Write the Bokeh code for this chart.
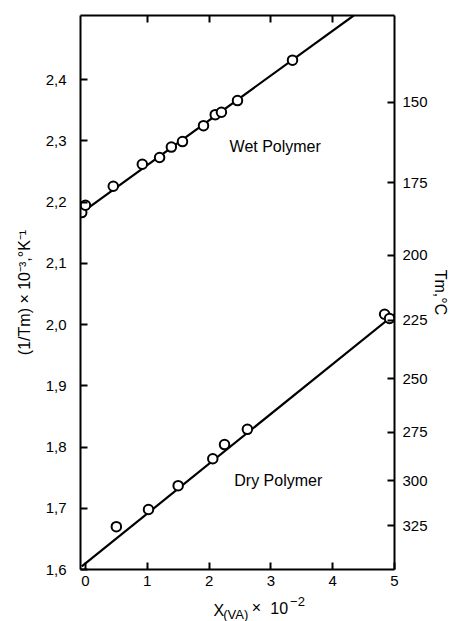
from bokeh.plotting import figure
from bokeh.layouts import column
from bokeh.models import Range1d, LinearAxis, FixedTicker, Label
from bokeh.core.properties import value
from bokeh.embed import file_html
from bokeh.resources import INLINE

# ---- data ----
wet_x = [-0.06, 0.0, 0.45, 0.92, 1.20, 1.39, 1.57, 1.91, 2.10, 2.20, 2.46, 3.35]
wet_y = [2.183, 2.195, 2.226, 2.262, 2.273, 2.290, 2.299, 2.325, 2.343, 2.347, 2.366, 2.432]
dry_x = [0.50, 1.02, 1.50, 2.06, 2.25, 2.62, 4.84, 4.92]
dry_y = [1.670, 1.698, 1.737, 1.781, 1.804, 1.829, 2.017, 2.010]
wet_line_x = [-0.06, 4.34]
wet_line_y = [2.183, 2.505]
dry_line_x = [-0.06, 5.0]
dry_line_y = [1.605, 2.017]

x_ticks = [0, 1, 2, 3, 4, 5]
top_ticks = [1, 2, 3, 4]
y_ticks = [1.6, 1.7, 1.8, 1.9, 2.0, 2.1, 2.2, 2.3, 2.4]
y_tick_labels = ["1,6", "1,7", "1,8", "1,9", "2,0", "2,1", "2,2", "2,3", "2,4"]
tm_celsius = [150, 175, 200, 225, 250, 275, 300, 325]

FONT = "Liberation Sans"
W = 451
MAIN_H = 592
TITLE_H = 29

p = figure(width=W, height=MAIN_H, output_backend="svg", toolbar_location=None,
           x_range=Range1d(-0.08, 5.0), y_range=Range1d(1.6, 2.505),
           min_border_left=80, min_border_right=57, min_border_top=15, min_border_bottom=23,
           background_fill_color="white", border_fill_color="white")
p.grid.visible = False
p.outline_line_color = None

def style_axis(ax, tick_len=7):
    ax.axis_line_width = 2
    ax.axis_line_color = "black"
    ax.major_tick_in = tick_len
    ax.major_tick_out = 0
    ax.major_tick_line_width = 2
    ax.minor_tick_line_color = None
    ax.major_label_text_font = FONT
    ax.major_label_text_font_size = "15px"
    ax.major_label_text_color = "black"
    ax.axis_label_text_font = FONT
    ax.axis_label_text_font_style = "normal"
    ax.axis_label_text_font_size = "16px"
    ax.axis_label_text_color = "black"

# bottom axis
xa = p.xaxis[0]
xa.ticker = FixedTicker(ticks=x_ticks)
style_axis(xa)
xa.major_label_standoff = 6

# left axis
ya = p.yaxis[0]
ya.ticker = FixedTicker(ticks=y_ticks)
ya.major_label_overrides = {t: l for t, l in zip(y_ticks, y_tick_labels)}
style_axis(ya)
ya.major_label_standoff = 14
ya.axis_label = "(1/Tm) × 10⁻³,°K⁻¹"
ya.axis_label_standoff = 10

# top axis (ticks only, no labels)
ta = LinearAxis(ticker=FixedTicker(ticks=top_ticks))
style_axis(ta)
ta.major_label_overrides = {t: "" for t in top_ticks}
ta.major_label_standoff = 0
p.add_layout(ta, "above")

# right axis (Tm, deg C)
p.extra_y_ranges = {"tm": Range1d(1.6, 2.505)}
tm_pos = [1000.0 / (t + 273.15) for t in tm_celsius]
ra = LinearAxis(y_range_name="tm", ticker=FixedTicker(ticks=tm_pos))
ra.major_label_overrides = {pos: str(t) for pos, t in zip(tm_pos, tm_celsius)}
style_axis(ra)
ra.major_label_standoff = 8
ra.axis_label = "Tm,°C"
ra.axis_label_standoff = 1
p.add_layout(ra, "right")

# lines and points
p.line(wet_line_x, wet_line_y, line_color="black", line_width=2.2)
p.line(dry_line_x, dry_line_y, line_color="black", line_width=2.2)
p.scatter(wet_x, wet_y, marker="circle", size=9.5, line_color="black", line_width=2, fill_color="white")
p.scatter(dry_x, dry_y, marker="circle", size=9.5, line_color="black", line_width=2, fill_color="white")

# series labels
p.add_layout(Label(x=3.07, y=2.291, text="Wet Polymer", text_font=FONT, text_font_size="16px",
                   text_align="center", text_baseline="middle", text_color="black"))
p.add_layout(Label(x=3.12, y=1.745, text="Dry Polymer", text_font=FONT, text_font_size="16px",
                   text_align="center", text_baseline="middle", text_color="black"))

# x-axis title strip (shares the x range so pieces line up with the axis)
q = figure(width=W, height=TITLE_H, output_backend="svg", toolbar_location=None,
           x_range=p.x_range, y_range=Range1d(0, TITLE_H),
           x_axis_type=None, y_axis_type=None,
           min_border_left=80, min_border_right=57, min_border_top=0, min_border_bottom=0,
           background_fill_color="white", border_fill_color="white")
q.grid.visible = False
q.outline_line_color = None
q.text(x=[2.07], y=[11], text=["X"], text_font=value(FONT), text_font_size="16px",
       text_baseline="alphabetic", text_color="black")
q.text(x=[2.23], y=[7], text=["(VA)"], text_font=value(FONT), text_font_size="13px",
       text_baseline="alphabetic", text_color="black")
q.text(x=[2.69], y=[14], text=["×"], text_font=value(FONT), text_font_size="16px",
       text_baseline="alphabetic", text_color="black")
q.text(x=[2.99], y=[14], text=["10"], text_font=value(FONT), text_font_size="16px",
       text_baseline="alphabetic", text_color="black")
q.text(x=[3.31], y=[20], text=["−2"], text_font=value(FONT), text_font_size="13px",
       text_baseline="alphabetic", text_color="black")

layout = column(p, q, spacing=0)
open("out.html", "w").write(file_html(layout, INLINE))
